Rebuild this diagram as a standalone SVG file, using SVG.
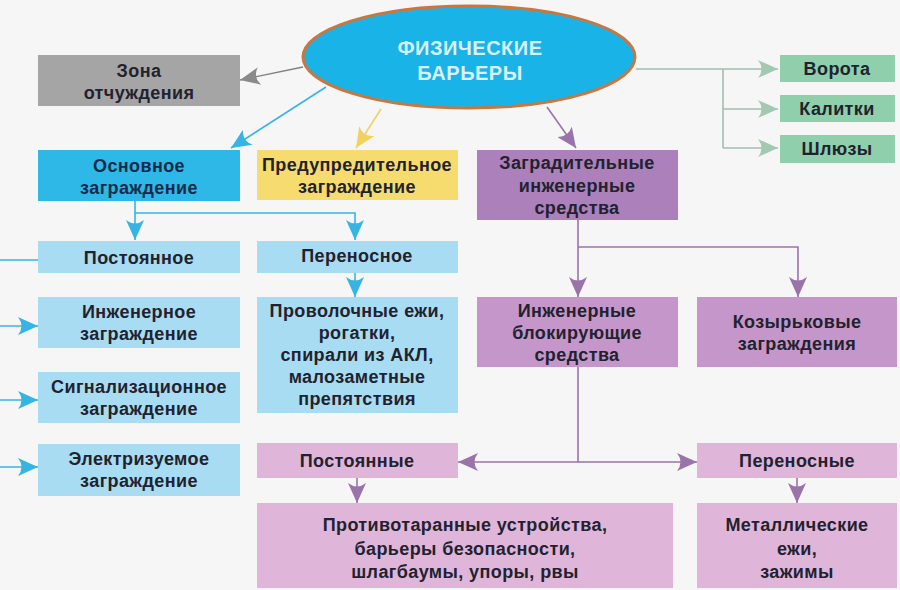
<svg xmlns="http://www.w3.org/2000/svg" width="900" height="590" viewBox="0 0 900 590">
<style>
  text { font-family: "Liberation Sans", Arial, sans-serif; font-size: 18px; font-weight: 700; fill: #22222e; text-anchor: middle; letter-spacing: 0.4px; }
  .title { font-size: 20px; font-weight: 700; fill: #d9f1fb; letter-spacing: 0.5px; }
  .navy { fill: #16294a; }
  .c-gray { stroke: #7f7f7f; stroke-width: 1.3; fill: none; }
  .c-blue { stroke: #36b4e4; stroke-width: 1.6; fill: none; }
  .c-yel { stroke: #f2d160; stroke-width: 1.6; fill: none; }
  .c-pur { stroke: #9a73ab; stroke-width: 1.6; fill: none; }
  .c-grn { stroke: #9fbfae; stroke-width: 1.6; fill: none; }
</style>
<defs>
  <path id="ah" d="M0,0 Q11,5 20,9 Q11,13 0,18 Q7,9 0,0 Z"/>
  <marker id="aGray" viewBox="0 0 20 18" refX="20" refY="9" markerWidth="20" markerHeight="18" markerUnits="userSpaceOnUse" orient="auto"><use href="#ah" fill="#8a8a8a"/></marker>
  <marker id="aBlue" viewBox="0 0 20 18" refX="20" refY="9" markerWidth="20" markerHeight="18" markerUnits="userSpaceOnUse" orient="auto"><use href="#ah" fill="#36b4e4"/></marker>
  <marker id="aYel" viewBox="0 0 20 18" refX="20" refY="9" markerWidth="20" markerHeight="18" markerUnits="userSpaceOnUse" orient="auto"><use href="#ah" fill="#f2d160"/></marker>
  <marker id="aPur" viewBox="0 0 20 18" refX="20" refY="9" markerWidth="20" markerHeight="18" markerUnits="userSpaceOnUse" orient="auto"><use href="#ah" fill="#9a73ab"/></marker>
  <marker id="aPurS" viewBox="0 0 20 18" refX="20" refY="9" markerWidth="20" markerHeight="18" markerUnits="userSpaceOnUse" orient="auto-start-reverse"><use href="#ah" fill="#9a73ab"/></marker>
  <marker id="aGrn" viewBox="0 0 20 18" refX="20" refY="9" markerWidth="20" markerHeight="18" markerUnits="userSpaceOnUse" orient="auto"><use href="#ah" fill="#a3c9b3"/></marker>
</defs>
<rect x="0" y="0" width="900" height="590" fill="#f6f6f6"/>

<g id="connectors">
  <line class="c-gray" x1="303" y1="67" x2="240" y2="80" marker-end="url(#aGray)"/>
  <line class="c-blue" x1="326" y1="87" x2="231" y2="148" marker-end="url(#aBlue)"/>
  <line class="c-yel" x1="381" y1="109" x2="356" y2="148" marker-end="url(#aYel)"/>
  <line class="c-pur" x1="547" y1="107" x2="576" y2="148" marker-end="url(#aPur)"/>
  <path class="c-grn" d="M636,69 H778" marker-end="url(#aGrn)"/>
  <path class="c-grn" d="M723,69 V148"/>
  <path class="c-grn" d="M723,109 H778" marker-end="url(#aGrn)"/>
  <path class="c-grn" d="M723,148 H778" marker-end="url(#aGrn)"/>
  <path class="c-blue" d="M135,201 V240" marker-end="url(#aBlue)"/>
  <path class="c-blue" d="M135,213 H355 V240" marker-end="url(#aBlue)"/>
  <path class="c-blue" d="M355,273 V297" marker-end="url(#aBlue)"/>
  <path class="c-blue" d="M0,260 H38"/>
  <path class="c-blue" d="M0,326 H38" marker-end="url(#aBlue)"/>
  <path class="c-blue" d="M0,400 H38" marker-end="url(#aBlue)"/>
  <path class="c-blue" d="M0,467 H38" marker-end="url(#aBlue)"/>
  <path class="c-pur" d="M578,220 V297" marker-end="url(#aPur)"/>
  <path class="c-pur" d="M578,247 H798 V297" marker-end="url(#aPur)"/>
  <path class="c-pur" d="M578,367 V462"/>
  <path class="c-pur" d="M458,462 H697" marker-start="url(#aPurS)" marker-end="url(#aPur)"/>
  <path class="c-pur" d="M357,478 V503" marker-end="url(#aPur)"/>
  <path class="c-pur" d="M797,478 V503" marker-end="url(#aPur)"/>
</g>

<g id="root">
  <ellipse cx="469" cy="57" rx="166" ry="51" fill="#1ab3e8" stroke="#c9773f" stroke-width="3"/>
  <text class="title" x="470" y="55">ФИЗИЧЕСКИЕ</text>
  <text class="title" x="470" y="80">БАРЬЕРЫ</text>
</g>
<g id="zona">
  <rect x="38" y="55" width="202" height="51" fill="#a5a5a5"/>
  <text x="139" y="77">Зона</text>
  <text x="139" y="99">отчуждения</text>
</g>
<g id="osnovnoe">
  <rect x="38" y="150" width="202" height="51" fill="#2db8e7"/>
  <text class="navy" x="139" y="172">Основное</text>
  <text class="navy" x="139" y="194">заграждение</text>
</g>
<g id="preduprel">
  <rect x="257" y="150" width="201" height="50" fill="#f6dc6e"/>
  <text x="357" y="171">Предупредительное</text>
  <text x="357" y="193">заграждение</text>
</g>
<g id="zagrad">
  <rect x="477" y="150" width="201" height="70" fill="#ab80bb"/>
  <text x="577" y="169">Заградительные</text>
  <text x="577" y="192">инженерные</text>
  <text x="577" y="214">средства</text>
</g>
<g id="vorota">
  <rect x="780" y="55" width="115" height="27" fill="#8fcfab"/>
  <text x="837" y="75">Ворота</text>
</g>
<g id="kalitki">
  <rect x="780" y="95" width="115" height="27" fill="#8fcfab"/>
  <text x="837" y="115">Калитки</text>
</g>
<g id="shlyuzy">
  <rect x="780" y="135" width="115" height="28" fill="#8fcfab"/>
  <text x="837" y="155">Шлюзы</text>
</g>
<g id="postoyannoe">
  <rect x="38" y="241" width="202" height="32" fill="#a8dcf2"/>
  <text x="139" y="264">Постоянное</text>
</g>
<g id="inzhenernoe">
  <rect x="38" y="297" width="202" height="51" fill="#a8dcf2"/>
  <text x="139" y="318">Инженерное</text>
  <text x="139" y="340">заграждение</text>
</g>
<g id="signal">
  <rect x="38" y="372" width="202" height="51" fill="#a8dcf2"/>
  <text x="139" y="393">Сигнализационное</text>
  <text x="139" y="415">заграждение</text>
</g>
<g id="elektr">
  <rect x="38" y="444" width="202" height="52" fill="#a8dcf2"/>
  <text x="139" y="465">Электризуемое</text>
  <text x="139" y="487">заграждение</text>
</g>
<g id="perenosnoe">
  <rect x="257" y="241" width="201" height="32" fill="#a8dcf2"/>
  <text x="357" y="262">Переносное</text>
</g>
<g id="provolochnye">
  <rect x="257" y="297" width="201" height="116" fill="#a8dcf2"/>
  <text x="357" y="317">Проволочные ежи,</text>
  <text x="357" y="339">рогатки,</text>
  <text x="357" y="361">спирали из АКЛ,</text>
  <text x="357" y="383">малозаметные</text>
  <text x="357" y="405">препятствия</text>
</g>
<g id="blokir">
  <rect x="477" y="297" width="201" height="70" fill="#c596c9"/>
  <text x="577" y="317">Инженерные</text>
  <text x="577" y="339">блокирующие</text>
  <text x="577" y="361">средства</text>
</g>
<g id="kozyrk">
  <rect x="697" y="297" width="200" height="70" fill="#c596c9"/>
  <text x="797" y="328">Козырьковые</text>
  <text x="797" y="350">заграждения</text>
</g>
<g id="postoyannye">
  <rect x="257" y="443" width="201" height="35" fill="#dfb6da"/>
  <text x="357" y="467">Постоянные</text>
</g>
<g id="perenosnye">
  <rect x="697" y="443" width="200" height="35" fill="#dfb6da"/>
  <text x="797" y="467">Переносные</text>
</g>
<g id="protivotaran">
  <rect x="257" y="503" width="416" height="85" fill="#dfb6da"/>
  <text x="465" y="531">Противотаранные устройства,</text>
  <text x="465" y="555">барьеры безопасности,</text>
  <text x="465" y="578">шлагбаумы, упоры, рвы</text>
</g>
<g id="metall">
  <rect x="697" y="503" width="200" height="85" fill="#dfb6da"/>
  <text x="797" y="531">Металлические</text>
  <text x="797" y="555">ежи,</text>
  <text x="797" y="578">зажимы</text>
</g>
</svg>
